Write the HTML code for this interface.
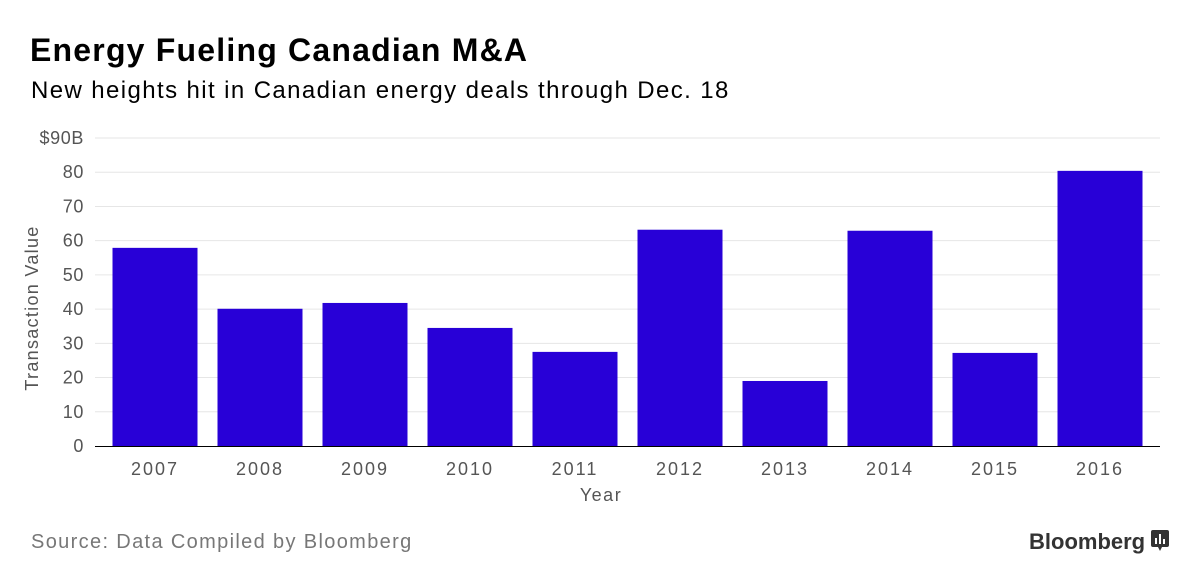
<!DOCTYPE html>
<html><head><meta charset="utf-8"><style>
body{margin:0;width:1200px;height:586px;background:#fff;font-family:"Liberation Sans",sans-serif;overflow:hidden;position:relative}
.t{position:absolute;white-space:nowrap}
</style></head><body>
<div class="t" style="left:30px;top:32px;font-size:32px;font-weight:bold;color:#000;letter-spacing:1.2px">Energy Fueling Canadian M&amp;A</div>
<div class="t" style="left:31px;top:77px;font-size:24px;color:#000;letter-spacing:1.4px">New heights hit in Canadian energy deals through Dec. 18</div>
<svg id="c" width="1200" height="586" style="position:absolute;left:0;top:0"></svg>
<div class="t" style="left:31px;top:531px;font-size:20px;color:#777;letter-spacing:1.35px">Source: Data Compiled by Bloomberg</div>
<div class="t" style="left:1029px;top:529px;font-size:22px;font-weight:bold;color:#333">Bloomberg</div>
<svg style="position:absolute;left:1151px;top:530px" width="18" height="22"><path d="M2 0h14a2 2 0 0 1 2 2v13a2 2 0 0 1-2 2h-5l-2 4-2-4H2a2 2 0 0 1-2-2V2a2 2 0 0 1 2-2z" fill="#333"/><rect x="4" y="8" width="2" height="6" fill="#fff"/><rect x="8" y="4" width="2" height="10" fill="#fff"/><rect x="12" y="9" width="2" height="5" fill="#fff"/></svg>
<script>
const categories=["2007","2008","2009","2010","2011","2012","2013","2014","2015","2016"];
const values=[57.9,40.1,41.8,34.5,27.5,63.2,19,62.9,27.2,80.4];
const yTicks=[0,10,20,30,40,50,60,70,80,90];
const yTickLabels=["0","10","20","30","40","50","60","70","80","$90B"];
const NS="http://www.w3.org/2000/svg",svg=document.getElementById("c");
const x0=95,x1=1160,y0=446,yTop=138,bandStart=102.5,band=105,barW=85;
const y=v=>y0-(v/90)*(y0-yTop);
const xc=i=>bandStart+band*i+band/2;
function mk(t,a){const e=document.createElementNS(NS,t);for(const k in a)e.setAttribute(k,a[k]);svg.appendChild(e);return e;}
yTicks.forEach((v,i)=>{
 if(v>0){const g=mk("line",{x1:x0,x2:x1,y1:y(v),y2:y(v),stroke:"#e6e6e6","stroke-width":1});
 
 }
 const t=mk("text",{x:84,y:y(v)+6,"text-anchor":"end","font-size":18,fill:"#555","font-family":"Liberation Sans","letter-spacing":"0.6"});
 t.textContent=yTickLabels[i];
 
 
});
values.forEach((v,i)=>{
 const r=mk("rect",{x:xc(i)-barW/2,y:y(v),width:barW,height:y0-y(v),fill:"#2800d7"});
 
 
 const t=mk("text",{x:xc(i),y:475,"text-anchor":"middle","font-size":18,fill:"#555","font-family":"Liberation Sans","letter-spacing":"2"});
 t.textContent=categories[i];
 
 
});
const ax=mk("line",{x1:x0,x2:x1,y1:y0+0.5,y2:y0+0.5,stroke:"#000","stroke-width":1});


const xt=mk("text",{x:601,y:501,"text-anchor":"middle","font-size":18,fill:"#555","font-family":"Liberation Sans","letter-spacing":"1.5"});
xt.textContent="Year";


const yt=mk("text",{x:0,y:0,"text-anchor":"middle","font-size":18,fill:"#555","font-family":"Liberation Sans","letter-spacing":"1.3",transform:"translate(38,308) rotate(-90)"});
yt.textContent="Transaction Value";


</script>
</body></html>
